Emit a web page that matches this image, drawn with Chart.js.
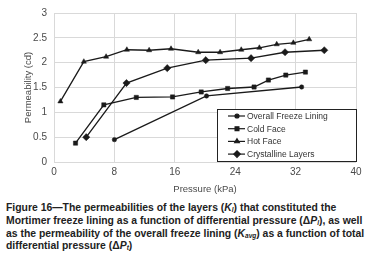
<!DOCTYPE html>
<html>
<head>
<meta charset="utf-8">
<script src="https://cdn.jsdelivr.net/npm/chart.js@4"></script>
<style>
  html, body { margin: 0; padding: 0; background: #fff; }
  #wrap { position: relative; width: 371px; height: 195px; }
  #cap {
    font-family: "Liberation Sans", Arial, sans-serif;
    font-weight: bold; font-size: 10.4px; line-height: 12.8px;
    color: #222; margin: 7px 0 0 6px; width: 365px; white-space: nowrap;
  }
  #cap sub { font-size: 6.5px; vertical-align: -1px; line-height: 0; }
</style>
</head>
<body>
<div id="wrap"><canvas id="chart"></canvas></div>
<div id="cap">
Figure 16—The permeabilities of the layers (<i>K<sub>l</sub></i>) that constituted the<br>
Mortimer freeze lining as a function of differential pressure (Δ<i>P<sub>l</sub></i>), as well<br>
as the permeability of the overall freeze lining (<i>K<sub>avg</sub></i>) as a function of total<br>
differential pressure (Δ<i>P<sub>t</sub></i>)
</div>
<script>
// data
let seriesNames = ["Overall Freeze Lining", "Cold Face", "Hot Face", "Crystalline Layers"];
let overallX = [8, 20.2, 32.8];
let overallY = [0.45, 1.33, 1.51];
let coldX = [2.85, 6.6, 10.9, 15.7, 19.5, 23.0, 26.5, 28.4, 30.7, 33.3];
let coldY = [0.38, 1.15, 1.30, 1.31, 1.41, 1.48, 1.51, 1.65, 1.75, 1.81];
let hotX = [0.85, 3.95, 6.9, 9.65, 12.6, 15.5, 19.1, 22.0, 24.8, 27.2, 29.5, 31.7, 33.8];
let hotY = [1.22, 2.02, 2.12, 2.26, 2.25, 2.28, 2.21, 2.21, 2.26, 2.30, 2.37, 2.40, 2.47];
let crystX = [4.27, 9.6, 15.0, 20.1, 26.1, 30.6, 35.8];
let crystY = [0.50, 1.59, 1.89, 2.05, 2.09, 2.21, 2.25];

function pts(xs, ys) {
    let out = [];
    for (let i = 0; i < xs.length; i++) out.push({x: xs[i], y: ys[i]});
    return out;
}

let styles = [
    {pointStyle: "circle", radius: 2.2},
    {pointStyle: "rect", radius: 3},
    {pointStyle: "triangle", radius: 3},
    {pointStyle: "rectRot", radius: 3.6}
];
let allData = [pts(overallX, overallY), pts(coldX, coldY), pts(hotX, hotY), pts(crystX, crystY)];

let datasets = [];
for (let i = 0; i < 4; i++) {
    datasets.push({
        label: seriesNames[i],
        data: allData[i],
        borderColor: "#1a1a1a",
        backgroundColor: "#1a1a1a",
        borderWidth: 1.3,
        pointStyle: styles[i].pointStyle,
        pointRadius: styles[i].radius,
        pointBorderWidth: 0.5,
        showLine: true,
        tension: 0
    });
}

// boxed legend drawn over the plot, like the original
let boxLegend = {
    id: "boxLegend",
    afterDraw(chart) {
        let c = chart.ctx;
        let x0 = 217, y0 = 109, w = 139, h = 52;
        c.save();
        c.fillStyle = "#fff";
        c.fillRect(x0, y0, w, h);
        c.strokeStyle = "#222";
        c.lineWidth = 1;
        c.strokeRect(x0 + 0.5, y0 + 0.5, w, h);
        c.font = "8.5px 'Liberation Sans', Arial, sans-serif";
        c.textBaseline = "middle";
        for (let i = 0; i < 4; i++) {
            let yy = y0 + 7 + i * 12.7;
            c.strokeStyle = "#1a1a1a";
            c.lineWidth = 1.2;
            c.beginPath();
            c.moveTo(x0 + 11, yy);
            c.lineTo(x0 + 28, yy);
            c.stroke();
            c.fillStyle = "#1a1a1a";
            Chart.helpers.drawPoint(c, {pointStyle: styles[i].pointStyle, radius: styles[i].radius * 0.9, borderWidth: 0.5}, x0 + 20, yy);
            c.fillStyle = "#333";
            c.fillText(seriesNames[i], x0 + 30, yy + 0.5);
        }
        c.restore();
    }
};

new Chart(document.getElementById("chart"), {
    type: "scatter",
    data: {datasets: datasets},
    options: {
        responsive: true,
        maintainAspectRatio: false,
        animation: false,
        layout: {padding: {left: 23, right: 15, top: 7, bottom: 0}},
        plugins: {legend: {display: false}, tooltip: {enabled: false}},
        scales: {
            x: {
                min: 0, max: 40,
                ticks: {stepSize: 8, color: "#4a4a4a", font: {family: "Liberation Sans", size: 10}, padding: 4},
                grid: {color: "#d9d9d9", drawTicks: false},
                border: {display: false},
                title: {display: true, text: "Pressure (kPa)", color: "#4a4a4a", font: {family: "Liberation Sans", size: 9.5}, padding: {top: 2, bottom: 0}},
                afterFit(s) { s.height = 33; }
            },
            y: {
                min: 0, max: 3,
                ticks: {stepSize: 0.5, color: "#4a4a4a", font: {family: "Liberation Sans", size: 10}, padding: 7,
                    callback: function(v) { return String(v); }},
                grid: {color: "#d9d9d9", drawTicks: false},
                border: {display: false},
                title: {display: true, text: "Permeability (cd)", color: "#4a4a4a", font: {family: "Liberation Sans", size: 9.5}, padding: {top: 0, bottom: 0}},
                afterFit(s) { s.width = 31; }
            }
        }
    },
    plugins: [boxLegend]
});
</script>
</body>
</html>
